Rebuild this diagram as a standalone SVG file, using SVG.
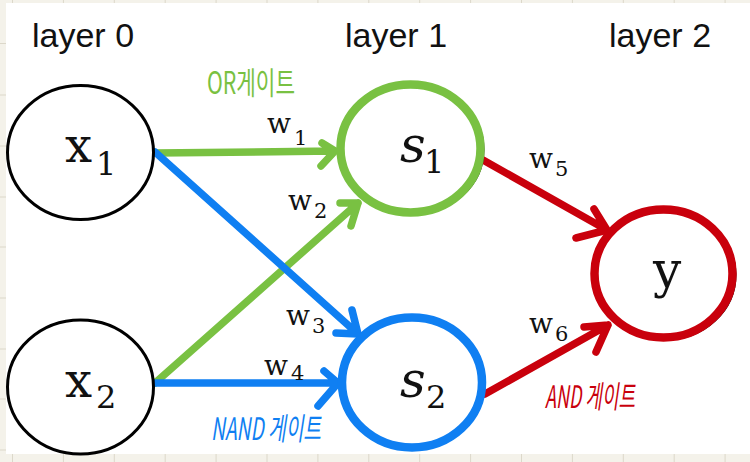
<svg xmlns="http://www.w3.org/2000/svg" width="750" height="462" viewBox="0 0 750 462">
<style>
.grid{stroke:#dcd8ca;stroke-width:1}
.node{fill:#fff;stroke:#000;stroke-width:3}
.ring{fill:#fff;stroke-width:8.5}
.shadow{fill:none;stroke:#000;stroke-width:3}
.layer{font-family:"Liberation Sans","Noto Sans",sans-serif;font-size:34px;fill:#111}
.nl{font-family:"DejaVu Serif","Liberation Serif",serif;fill:#111}
.w{font-family:"DejaVu Serif","Liberation Serif",serif;font-size:28px;fill:#111}
.ws{font-size:21px}
.hand{font-family:"Noto Sans CJK KR","Noto Sans",sans-serif;font-size:31px}
.edge{fill:none;stroke-width:7.5;stroke-linecap:round;stroke-linejoin:round}
.g{stroke:#79c142}.b{stroke:#0f7ff2}.r{stroke:#c9000c}
</style>
<rect x="0" y="0" width="750" height="462" fill="#f4f2ea"/>
<g id="gridlines">
<path class="grid" d="M12.5 0V3M63.4 0V3M114.3 0V3M165.2 0V3M216.1 0V3M267 0V3M317.9 0V3M368.8 0V3M419.7 0V3M470.6 0V3M521.5 0V3M572.4 0V3M623.3 0V3M674.2 0V3M725.1 0V3"/>
<path class="grid" d="M12.5 454V462M63.4 454V462M114.3 454V462M165.2 454V462M216.1 454V462M267 454V462M317.9 454V462M368.8 454V462M419.7 454V462M470.6 454V462M521.5 454V462M572.4 454V462M623.3 454V462M674.2 454V462M725.1 454V462"/>
<path class="grid" d="M0 43.5H6M0 95H6M0 146H6M0 197H6M0 247H6M0 298H6M0 349H6M0 399H6M0 450H6"/>
</g>
<rect x="6" y="3" width="744" height="451" fill="#fff"/>
<g id="layer-labels">
<text class="layer" x="32" y="47">layer 0</text>
<text class="layer" x="345" y="47">layer 1</text>
<text class="layer" x="609" y="47">layer 2</text>
</g>
<g id="connectors">
<path class="edge g" d="M155 153L335 151M322 143L335 151L321 166"/>
<path class="edge g" d="M155 383L358 203M340 203L358 203L351 226"/>
<path class="edge b" d="M155 152L358 334M352 310L358 334L336 333"/>
<path class="edge b" d="M155 383L338 383M324 371L338 383L318 406"/>
<path class="edge r" d="M483 160L607 230M594 209L607 230L576 238"/>
<path class="edge r" d="M485 394L608 325M584 327L608 325L596 352"/>
</g>
<g id="node-x1">
<ellipse class="node" cx="80.5" cy="152.5" rx="73" ry="67"/>
<text class="nl"><tspan x="65" y="162" font-size="48">x</tspan><tspan x="96" y="175" font-size="32">1</tspan></text>
</g>
<g id="node-x2">
<ellipse class="node" cx="80.5" cy="387" rx="73" ry="67"/>
<text class="nl"><tspan x="65" y="397" font-size="48">x</tspan><tspan x="96" y="408" font-size="32">2</tspan></text>
</g>
<g id="node-s1">
<ellipse class="shadow" cx="413" cy="149.5" rx="70" ry="64"/>
<ellipse class="ring g" cx="410.5" cy="148.5" rx="70" ry="64"/>
<text class="nl"><tspan x="400" y="162" font-size="50" font-style="italic">s</tspan><tspan x="424" y="173" font-size="32">1</tspan></text>
</g>
<g id="node-s2">
<ellipse class="shadow" cx="413" cy="384" rx="68" ry="62"/>
<ellipse class="ring b" cx="412" cy="382.5" rx="70" ry="65"/>
<text class="nl"><tspan x="400" y="397" font-size="50" font-style="italic">s</tspan><tspan x="426" y="408" font-size="32">2</tspan></text>
</g>
<g id="node-y">
<ellipse class="shadow" cx="666" cy="275" rx="69" ry="64"/>
<ellipse class="ring r" cx="663.5" cy="273.5" rx="69" ry="64"/>
<text class="nl" x="653" y="287" font-size="50">y</text>
</g>
<g id="weights">
<text class="w"><tspan x="267" y="133">w</tspan><tspan class="ws" x="294" y="145">1</tspan></text>
<text class="w"><tspan x="288" y="210">w</tspan><tspan class="ws" x="314" y="218">2</tspan></text>
<text class="w"><tspan x="286" y="325">w</tspan><tspan class="ws" x="312" y="333">3</tspan></text>
<text class="w"><tspan x="264" y="375">w</tspan><tspan class="ws" x="291" y="380">4</tspan></text>
<text class="w"><tspan x="529" y="168">w</tspan><tspan class="ws" x="555" y="176">5</tspan></text>
<text class="w"><tspan x="529" y="333">w</tspan><tspan class="ws" x="555" y="341">6</tspan></text>
</g>
<g id="gate-labels">
<text class="hand" x="207" y="94" fill="#79c142" textLength="88" lengthAdjust="spacingAndGlyphs">OR게이트</text>
<text class="hand" x="211" y="440" fill="#0f7ff2" textLength="110" lengthAdjust="spacingAndGlyphs" font-style="italic">NAND 게이트</text>
<text class="hand" x="545" y="408" fill="#c9000c" textLength="90" lengthAdjust="spacingAndGlyphs" font-style="italic">AND 게이트</text>
</g>
</svg>
